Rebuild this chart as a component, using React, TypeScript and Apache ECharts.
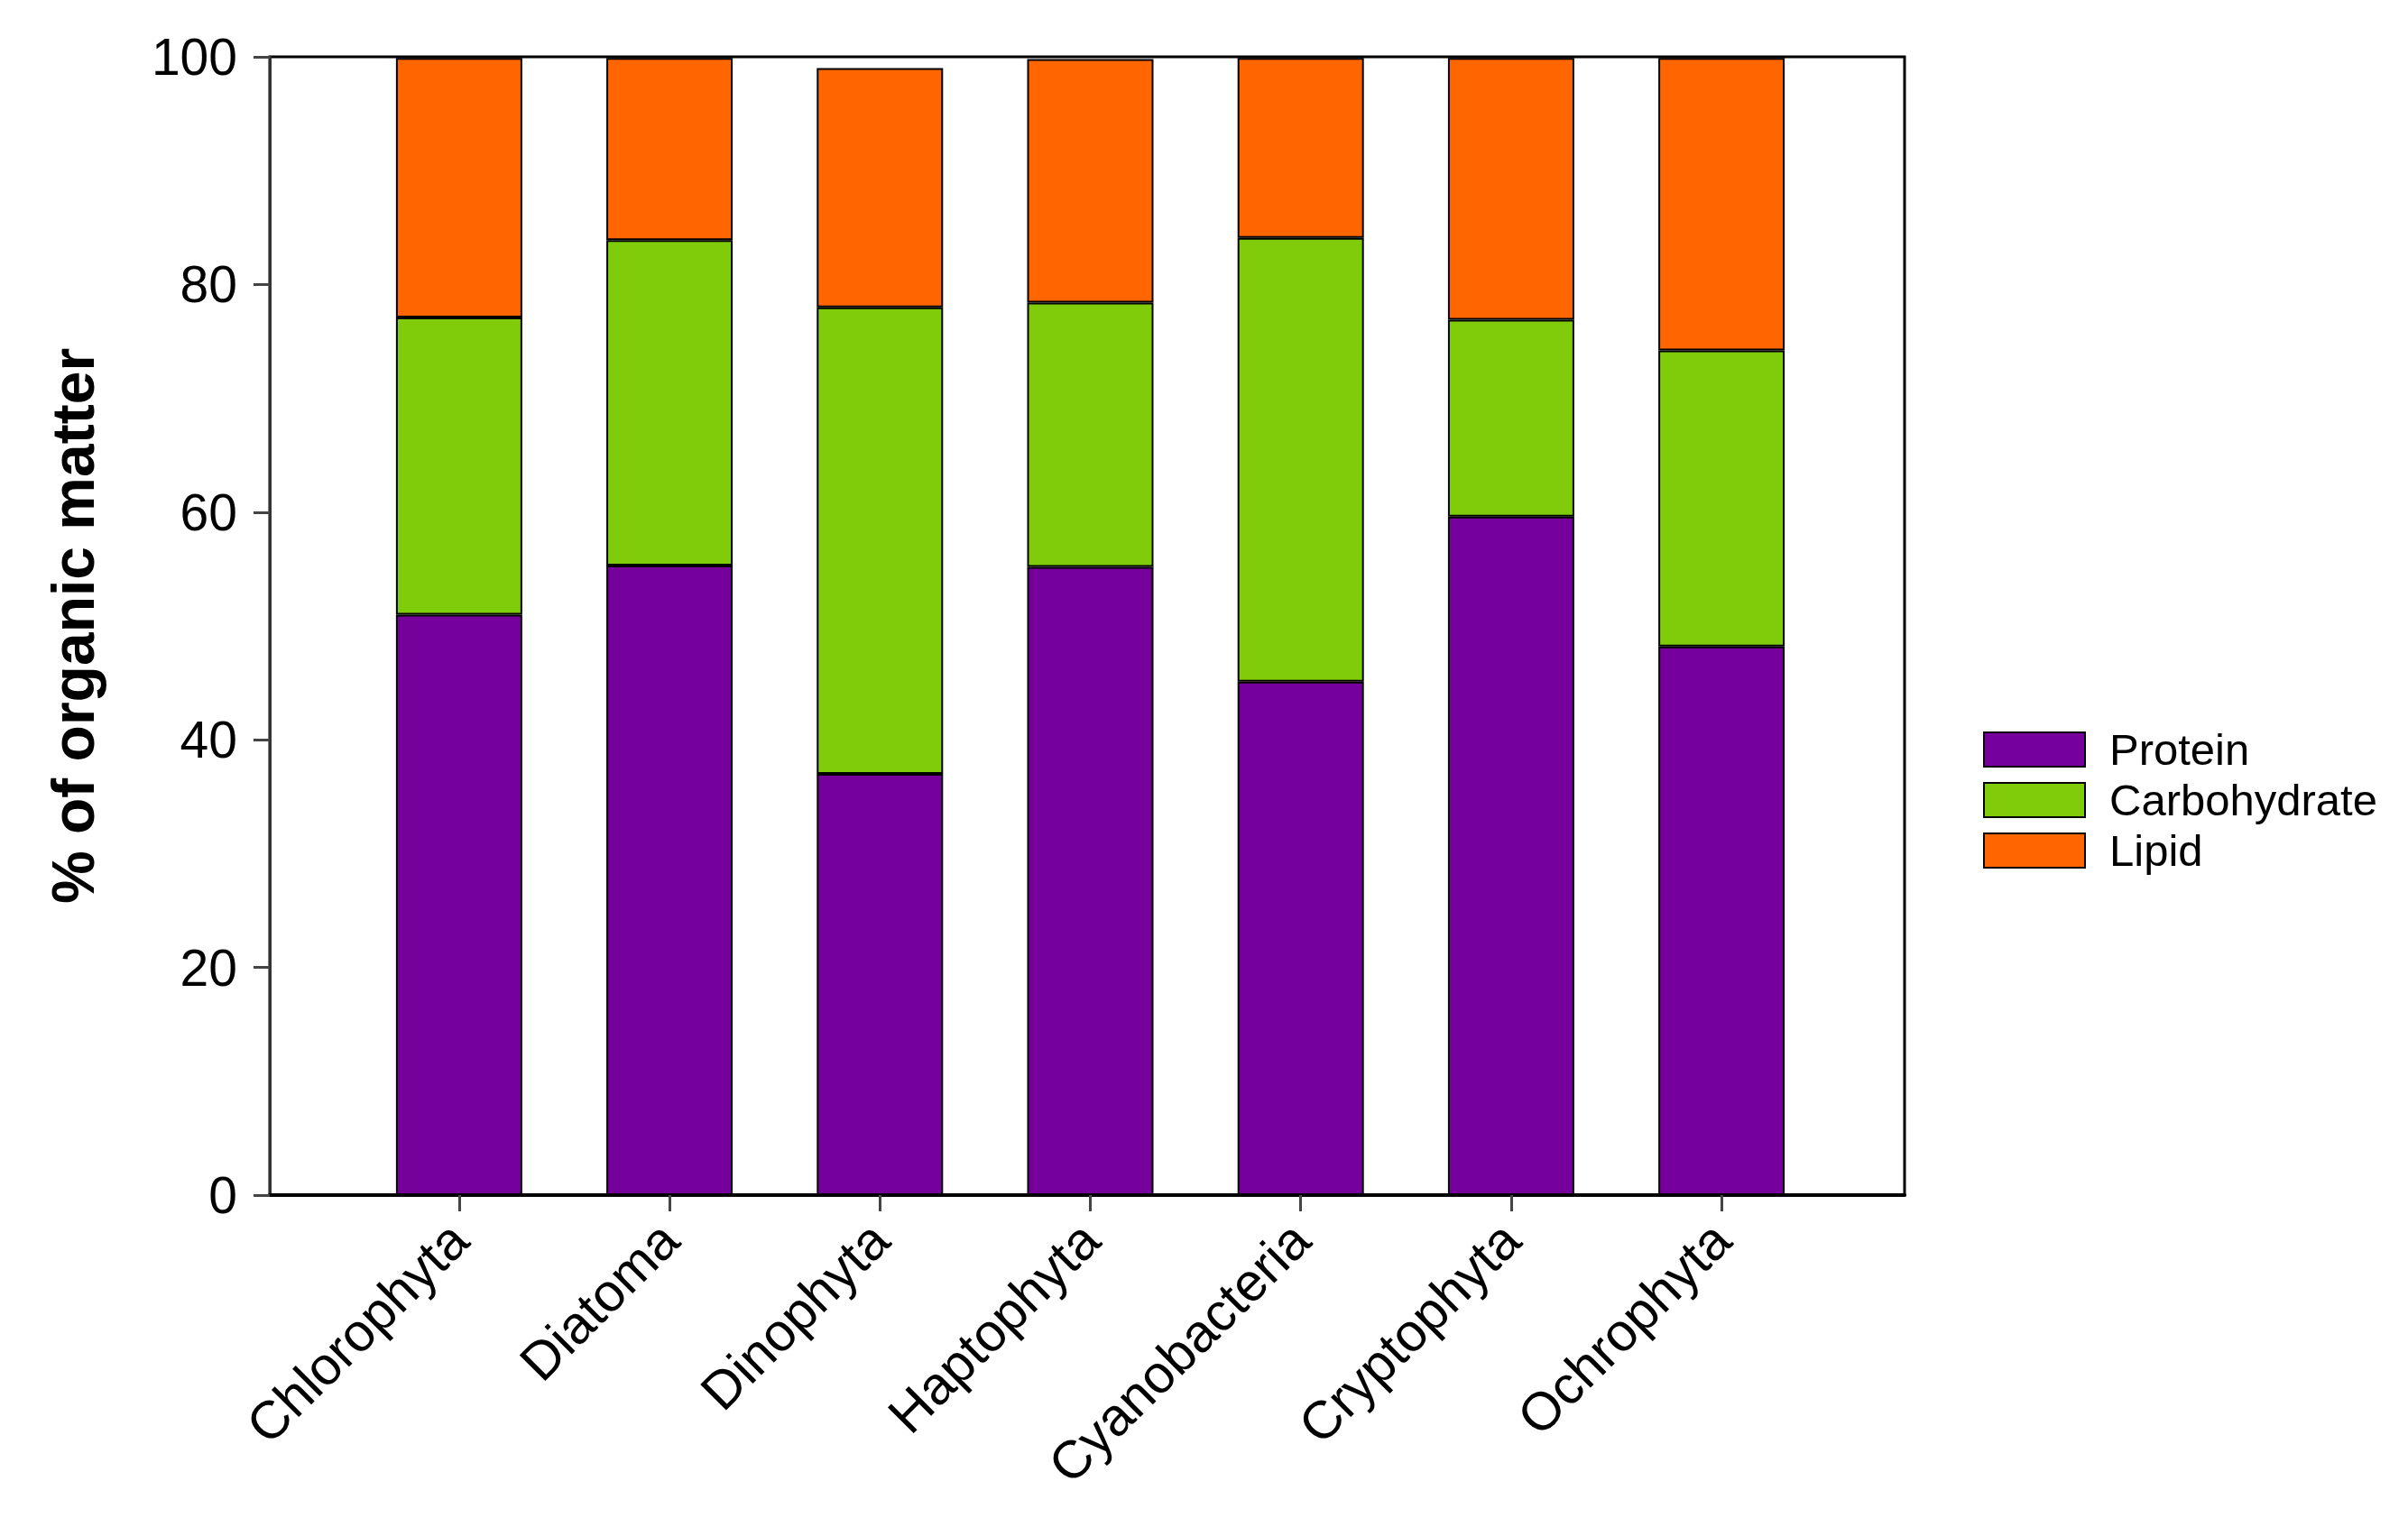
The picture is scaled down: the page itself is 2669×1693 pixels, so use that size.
import React, { useEffect, useRef } from "react";
import * as echarts from "echarts";

const categories = ["Chlorophyta", "Diatoma", "Dinophyta", "Haptophyta", "Cyanobacteria", "Cryptophyta", "Ochrophyta"];
const positions = [1, 2, 3, 4, 5, 6, 7];
const protein = [51.0, 55.3, 37.0, 55.2, 45.1, 59.6, 48.2];
const carbohydrate = [26.1, 28.6, 41.0, 23.2, 39.0, 17.3, 26.0];
const lipid = [22.8, 16.0, 21.0, 21.4, 15.8, 23.0, 25.7];
const yTicks = [0, 20, 40, 60, 80, 100];

const FONT = "'Liberation Sans', Arial, sans-serif";

export default function App() {
  const ref = useRef<HTMLDivElement>(null);
  useEffect(() => {
    const chart = echarts.init(ref.current!, null, { renderer: "svg" });
    const mk = (name: string, vals: number[], color: string) => ({
      name,
      type: "bar",
      stack: "total",
      barWidth: 140,
      dimensions: ["value", "pos"],
      encode: { x: 1, y: 0 },
      data: positions.map((p, i) => [vals[i], p]),
      itemStyle: { color, borderColor: "#000", borderWidth: 2 },
    });
    chart.setOption({
      animation: false,
      backgroundColor: "#fff",
      grid: {
        left: 299,
        top: 63,
        width: 1812,
        height: 1262,
        show: true,
        borderColor: "#000",
        borderWidth: 3,
        backgroundColor: "transparent",
      },
      xAxis: {
        type: "value",
        min: 0.1,
        max: 7.87,
        splitLine: { show: false },
        axisLine: { show: true, lineStyle: { color: "#000", width: 4 } },
        axisTick: { show: true, customValues: positions, length: 18, inside: false, lineStyle: { color: "#444", width: 3 } },
        axisLabel: {
          customValues: positions,
          rotate: 45,
          margin: 40,
          fontSize: 59,
          fontFamily: FONT,
          color: "#000",
          formatter: (v: number) => categories[Math.round(v) - 1] ?? "",
        },
      },
      yAxis: {
        type: "value",
        min: yTicks[0],
        max: yTicks[yTicks.length - 1],
        interval: 20,
        splitLine: { show: false },
        axisLine: { show: true, lineStyle: { color: "#333", width: 3 } },
        axisTick: { show: true, length: 18, inside: false, lineStyle: { color: "#444", width: 3 } },
        axisLabel: { margin: 36, fontSize: 57, fontFamily: FONT, color: "#000" },
        name: "% of organic matter",
        nameLocation: "middle",
        nameRotate: 90,
        nameGap: 185,
        nameTextStyle: { fontSize: 66, fontWeight: "bold", fontFamily: FONT, color: "#000" },
      },
      legend: {
        orient: "vertical",
        left: 2193,
        top: 801,
        itemWidth: 112,
        itemHeight: 38,
        itemGap: 6,
        icon: "rect",
        data: ["Protein", "Carbohydrate", "Lipid"],
        itemStyle: { borderColor: "#000", borderWidth: 2 },
        textStyle: { fontSize: 49, lineHeight: 50, fontFamily: FONT, color: "#000", padding: [0, 0, 0, 22] },
      },
      series: [
        mk("Protein", protein, "#76009C"),
        mk("Carbohydrate", carbohydrate, "#80CC0A"),
        mk("Lipid", lipid, "#FF6600"),
      ],
    });
    return () => chart.dispose();
  }, []);
  return <div ref={ref} style={{ position: "absolute", left: 0, top: 0, width: 2669, height: 1693 }} />;
}
